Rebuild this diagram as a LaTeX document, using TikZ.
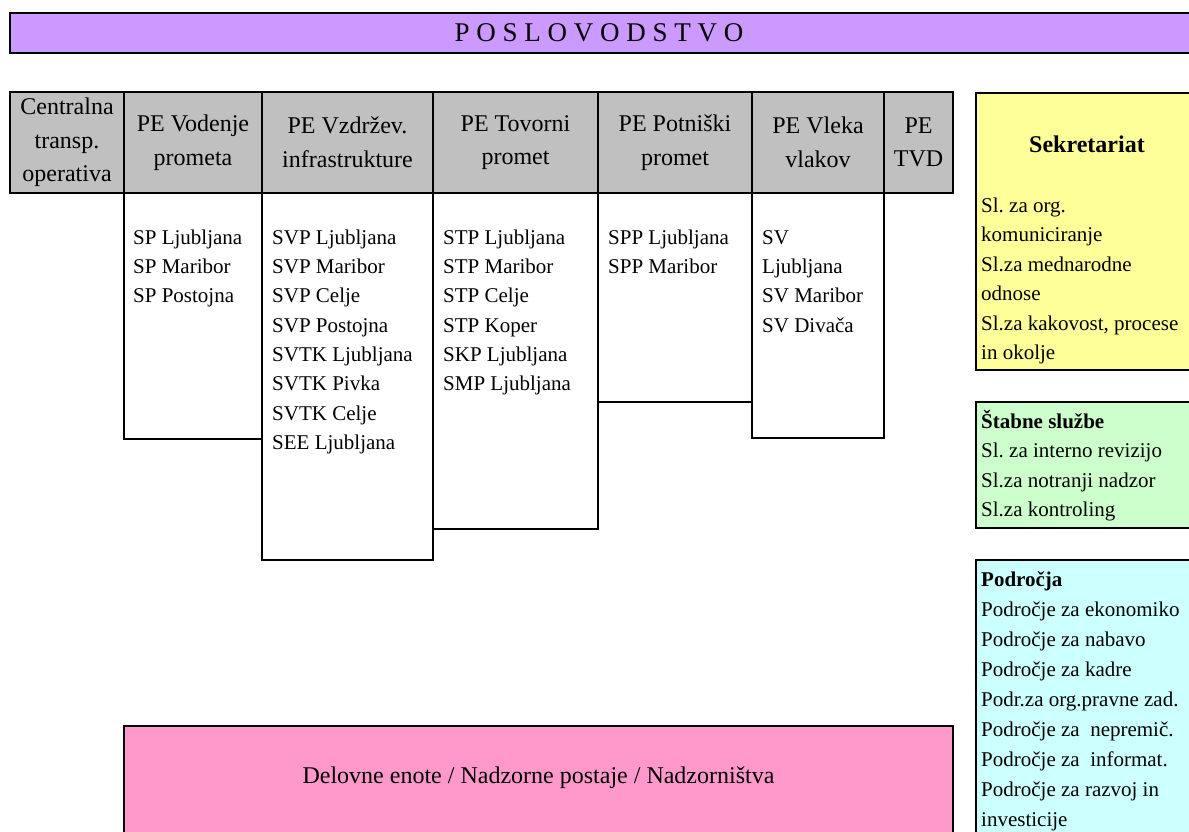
\documentclass[tikz,border=0pt]{standalone}
\usepackage{fontspec}
\setmainfont{Liberation Serif}
\frenchspacing
\definecolor{purp}{HTML}{CC99FF}
\definecolor{grayc}{HTML}{C0C0C0}
\definecolor{yell}{HTML}{FFFF99}
\definecolor{grn}{HTML}{CCFFCC}
\definecolor{cyn}{HTML}{CCFFFF}
\definecolor{pnk}{HTML}{FF99CC}
\newcommand{\tstrut}{\rule{0pt}{20pt}}
\tikzset{
  cell/.style={draw=black, line width=2.2pt, anchor=north west, inner sep=0pt, outer sep=0pt},
  hdr/.style={font=\fontsize{24}{33.5}\selectfont, align=center, inner sep=0pt},
  lst/.style={font=\fontsize{21}{29.3}\selectfont, align=left, anchor=north west, inner sep=0pt},
  rlst/.style={font=\fontsize{21}{29.5}\selectfont, align=left, anchor=north west, inner sep=0pt},
  plst/.style={font=\fontsize{21}{30}\selectfont, align=left, anchor=north west, inner sep=0pt},
}
\begin{document}
\begin{tikzpicture}[x=1pt,y=-1pt]
\useasboundingbox (0,0) rectangle (1189,832);
\clip (0,0) rectangle (1189,832);
% top band
\node[cell, fill=purp, minimum width=1190pt, minimum height=40pt] (top) at (10,13) {};
\node[font=\fontsize{27}{30}\selectfont, inner sep=0pt] (toptxt) at (599,33) {P O S L O V O D S T V O};
% sub boxes
\node[cell, fill=white, minimum width=138pt, minimum height=246pt] (s2) at (124,193) {};
\node[cell, fill=white, minimum width=171pt, minimum height=367pt] (s3) at (262,193) {};
\node[cell, fill=white, minimum width=165pt, minimum height=336pt] (s4) at (433,193) {};
\node[cell, fill=white, minimum width=154pt, minimum height=209pt] (s5) at (598,193) {};
\node[cell, fill=white, minimum width=132pt, minimum height=245pt] (s6) at (752,193) {};
% header row
\node[cell, fill=grayc, minimum width=114pt, minimum height=101pt] (c1) at (10,92) {};
\node[cell, fill=grayc, minimum width=138pt, minimum height=101pt] (c2) at (124,92) {};
\node[cell, fill=grayc, minimum width=171pt, minimum height=101pt] (c3) at (262,92) {};
\node[cell, fill=grayc, minimum width=165pt, minimum height=101pt] (c4) at (433,92) {};
\node[cell, fill=grayc, minimum width=154pt, minimum height=101pt] (c5) at (598,92) {};
\node[cell, fill=grayc, minimum width=132pt, minimum height=101pt] (c6) at (752,92) {};
\node[cell, fill=grayc, minimum width=69pt, minimum height=101pt] (c7) at (884,92) {};
\node[hdr] (t1) at (c1.center) {Centralna\\transp.\\operativa};
\node[hdr] (t2) at (c2.center) {PE Vodenje\\prometa};
\node[hdr] (t3) at (c3.center) {PE Vzdržev.\\infrastrukture};
\node[hdr] (t4) at (c4.center) {PE Tovorni\\promet};
\node[hdr] (t5) at (c5.center) {PE Potniški\\promet};
\node[hdr] (t6) at (c6.center) {PE Vleka\\vlakov};
\node[hdr] (t7) at (c7.center) {PE\\TVD};
% lists
\node[lst] (l2) at (133,224) {\tstrut SP Ljubljana\\SP Maribor\\SP Postojna};
\node[lst] (l3) at (272,224) {\tstrut SVP Ljubljana\\SVP Maribor\\SVP Celje\\SVP Postojna\\SVTK Ljubljana\\SVTK Pivka\\SVTK Celje\\SEE Ljubljana};
\node[lst] (l4) at (443,224) {\tstrut STP Ljubljana\\STP Maribor\\STP Celje\\STP Koper\\SKP Ljubljana\\SMP Ljubljana};
\node[lst] (l5) at (608,224) {\tstrut SPP Ljubljana\\SPP Maribor};
\node[lst] (l6) at (762,224) {\tstrut SV\\Ljubljana\\SV Maribor\\SV Divača};
% right boxes
\node[cell, fill=yell, minimum width=224pt, minimum height=277pt] (sek) at (976,93) {};
\node[font=\bfseries\fontsize{24}{28}\selectfont, anchor=base, inner sep=0pt] (sektit) at (1087,153) {Sekretariat};
\node[rlst] (sektxt) at (981,192) {\tstrut Sl. za org.\\komuniciranje\\Sl.za mednarodne\\odnose\\Sl.za kakovost, procese\\in okolje};
\node[cell, fill=grn, minimum width=224pt, minimum height=126pt] (stab) at (976,402) {};
\node[rlst] (stabtxt) at (981,408) {\tstrut\textbf{Štabne službe}\\Sl. za interno revizijo\\Sl.za notranji nadzor\\Sl.za kontroling};
\node[cell, fill=cyn, minimum width=224pt, minimum height=300pt] (podr) at (976,560) {};
\node[plst] (podrtxt) at (981,566) {\tstrut\textbf{Področja}\\Področje za ekonomiko\\Področje za nabavo\\Področje za kadre\\Podr.za org.pravne zad.\\Področje za \ nepremič.\\Področje za \ informat.\\Področje za razvoj in\\investicije};
% bottom box
\node[cell, fill=pnk, minimum width=829pt, minimum height=130pt] (del) at (124,726) {};
\node[font=\fontsize{24}{28}\selectfont, inner sep=0pt] (deltxt) at (538.5,778) {Delovne enote / Nadzorne postaje / Nadzorništva};
\end{tikzpicture}
\end{document}
